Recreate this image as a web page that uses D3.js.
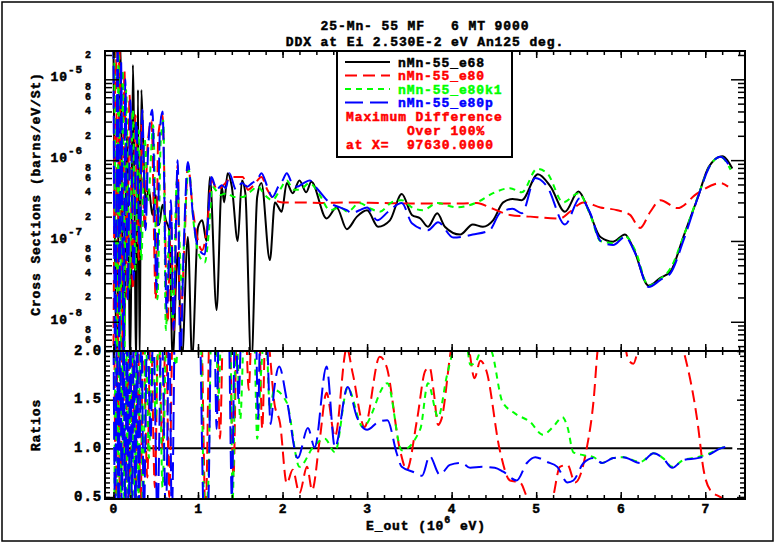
<!DOCTYPE html>
<html>
<head>
<meta charset="utf-8">
<script src="https://cdn.jsdelivr.net/npm/d3@7"></script>
<style>
  body { margin: 0; background: #fff; overflow: hidden; }
</style>
</head>
<body>
<div id="chart"></div>
<script>
// cross sections: [E_out (MeV), barns/eV/St]
const e68 = [[0.00, 3e-5], [0.04, 3e-9], [0.08, 3e-5], [0.12, 3e-9], [0.16, 2e-6], [0.20, 3e-9], [0.23, 1.5e-5],
    [0.27, 3e-9], [0.29, 7.4e-6], [0.31, 3e-9], [0.33, 7.4e-6], [0.36, 8e-7], [0.38, 3.2e-7], [0.42, 4.3e-7],
    [0.46, 2.1e-7], [0.50, 3.7e-7], [0.54, 1.6e-7], [0.58, 2.8e-7], [0.62, 1.8e-7], [0.66, 1.36e-7], [0.70, 3.5e-9],
    [0.76, 7.1e-8], [0.81, 3.5e-9], [0.88, 1.12e-7], [0.93, 3.5e-9], [1.00, 1.48e-7], [1.05, 1.8e-7], [1.10, 1.0e-7],
    [1.14, 6.2e-7], [1.22, 1.4e-8], [1.28, 4.7e-7], [1.31, 3.0e-7], [1.35, 6.9e-7], [1.40, 4.7e-7], [1.47, 1.0e-7],
    [1.52, 5.6e-7], [1.56, 3.9e-7], [1.63, 3e-9], [1.70, 3.5e-7], [1.75, 5.2e-7], [1.85, 5.8e-8], [1.91, 3.0e-7],
    [1.99, 2.3e-7], [2.05, 5.2e-7], [2.12, 3.9e-7], [2.20, 5.6e-7], [2.28, 4.0e-7], [2.34, 5.4e-7], [2.52, 1.9e-7],
    [2.64, 2.6e-7], [2.76, 1.4e-7], [2.88, 2.0e-7], [3.00, 2.4e-7], [3.13, 1.5e-7], [3.27, 1.8e-7], [3.41, 3.8e-7],
    [3.53, 2.1e-7], [3.63, 1.9e-7], [3.72, 1.5e-7], [3.83, 2.2e-7], [3.92, 1.5e-7], [4.10, 1.2e-7], [4.25, 1.6e-7],
    [4.37, 1.5e-7], [4.49, 1.8e-7], [4.61, 3.0e-7], [4.72, 3.3e-7], [4.83, 3.2e-7], [5.02, 6.7e-7], [5.17, 4.7e-7],
    [5.34, 2.3e-7], [5.50, 4.1e-7], [5.62, 2.4e-7], [5.76, 1.12e-7], [5.91, 9.8e-8], [6.05, 1.2e-7], [6.15, 8.1e-8],
    [6.33, 2.8e-8], [6.47, 3.5e-8], [6.59, 4.2e-8], [6.74, 1.12e-7], [6.91, 3.4e-7], [7.04, 8.2e-7], [7.20, 1.12e-6],
    [7.32, 7.9e-7]]

const e80 = [[0.00, 3e-9], [0.03, 3e-5], [0.05, 3e-9], [0.07, 2.8e-5], [0.10, 3e-9], [0.13, 1.3e-5], [0.16, 1.9e-8],
    [0.19, 6.4e-6], [0.23, 2.5e-8], [0.26, 3.6e-6], [0.30, 5.8e-8], [0.33, 2.7e-6], [0.37, 1.36e-7], [0.40, 1.33e-6],
    [0.45, 3.1e-6], [0.50, 1.9e-8], [0.53, 2.0e-6], [0.58, 3.6e-6], [0.64, 9.6e-9], [0.68, 2.4e-7], [0.71, 7.3e-9],
    [0.76, 8.7e-7], [0.79, 1.05e-8], [0.84, 8.9e-8], [0.88, 8.7e-7], [0.94, 2.4e-7], [1.00, 1.0e-7], [1.05, 7.7e-8],
    [1.11, 1.6e-7], [1.16, 5.6e-7], [1.23, 4.3e-7], [1.30, 4.9e-7], [1.41, 6.2e-7], [1.53, 6.2e-7], [1.59, 4.3e-7],
    [1.66, 4.9e-7], [1.75, 6.2e-7], [1.82, 4.3e-7], [1.91, 3.2e-7], [2.00, 3.0e-7], [2.20, 3.0e-7], [2.44, 2.95e-7],
    [2.80, 3.0e-7], [3.15, 2.95e-7], [3.63, 2.9e-7], [4.10, 2.9e-7], [4.30, 2.95e-7], [4.45, 2.6e-7], [4.69, 2.1e-7],
    [4.93, 2.0e-7], [5.28, 1.9e-7], [5.40, 2.3e-7], [5.56, 3.0e-7], [5.76, 2.6e-7], [5.96, 2.4e-7], [6.11, 2.1e-7],
    [6.23, 1.45e-7], [6.35, 2.3e-7], [6.47, 3.2e-7], [6.67, 2.55e-7], [6.91, 3.9e-7], [7.18, 5.2e-7], [7.27, 4.7e-7]]

const e80k1 = [[0.01, 3e-5], [0.04, 3e-9], [0.06, 2.5e-5], [0.08, 3e-9], [0.11, 1.3e-5], [0.13, 3e-9], [0.15, 7.4e-6],
    [0.19, 2.5e-8], [0.23, 4.2e-6], [0.26, 4.4e-8], [0.30, 2.35e-6], [0.33, 5.8e-8], [0.37, 1.8e-6], [0.41, 3.2e-7],
    [0.47, 2.7e-6], [0.52, 1.9e-8], [0.56, 1.8e-6], [0.59, 3.1e-6], [0.62, 7.9e-9], [0.66, 1.36e-7], [0.70, 1.05e-8],
    [0.75, 5.6e-7], [0.81, 2.5e-8], [0.84, 1.36e-7], [0.89, 7.6e-7], [0.95, 1.6e-7], [1.01, 6.8e-8], [1.08, 5.4e-8],
    [1.13, 1.36e-7], [1.17, 4.7e-7], [1.26, 3.7e-7], [1.34, 3.9e-7], [1.43, 3.5e-7], [1.53, 3.5e-7], [1.61, 4.0e-7],
    [1.71, 4.7e-7], [1.79, 3.7e-7], [1.88, 3.2e-7], [1.97, 4.3e-7], [2.05, 5.6e-7], [2.13, 4.3e-7], [2.20, 4.3e-7],
    [2.32, 5.2e-7], [2.44, 3.7e-7], [2.56, 2.4e-7], [2.68, 2.6e-7], [2.77, 2.3e-7], [2.91, 2.95e-7], [3.03, 2.55e-7],
    [3.15, 2.3e-7], [3.29, 3.0e-7], [3.41, 3.2e-7], [3.53, 2.6e-7], [3.66, 2.4e-7], [3.83, 2.95e-7], [4.06, 2.6e-7],
    [4.30, 3.0e-7], [4.49, 3.9e-7], [4.69, 4.5e-7], [4.83, 4.0e-7], [5.01, 7.8e-7], [5.13, 6.9e-7], [5.32, 3.0e-7],
    [5.50, 3.9e-7], [5.64, 2.1e-7], [5.76, 1.0e-7], [5.91, 9.4e-8], [6.05, 1.15e-7], [6.17, 7.7e-8], [6.33, 2.8e-8],
    [6.47, 3.4e-8], [6.59, 4.6e-8], [6.74, 1.12e-7], [6.91, 3.5e-7], [7.06, 8.7e-7], [7.18, 1.1e-6], [7.30, 7.6e-7]]

const e80p = [[0.00, 3e-5], [0.02, 3e-9], [0.05, 3e-5], [0.07, 3e-9], [0.09, 1.7e-5], [0.12, 3e-9], [0.14, 1.0e-5],
    [0.17, 1.9e-8], [0.20, 5.5e-6], [0.24, 3.3e-8], [0.27, 3.1e-6], [0.31, 7.7e-8], [0.34, 4.2e-6], [0.38, 1.36e-7],
    [0.41, 1.33e-6], [0.46, 4.2e-6], [0.51, 2.5e-8], [0.55, 2.35e-6], [0.58, 4.0e-6], [0.63, 1.3e-8], [0.68, 3.2e-7],
    [0.71, 7.9e-9], [0.76, 1.0e-6], [0.79, 3e-9], [0.83, 7.7e-8], [0.88, 9.5e-7], [0.94, 2.1e-7], [0.98, 1.0e-7],
    [1.02, 7.7e-8], [1.08, 6.8e-8], [1.11, 1.36e-7], [1.16, 6.2e-7], [1.22, 4.3e-7], [1.28, 4.9e-7], [1.33, 4.5e-7],
    [1.37, 6.9e-7], [1.45, 4.3e-7], [1.52, 5.2e-7], [1.58, 4.7e-7], [1.64, 5.2e-7], [1.71, 5.9e-7], [1.75, 6.9e-7],
    [1.82, 4.7e-7], [1.88, 3.5e-7], [1.95, 4.7e-7], [2.00, 5.6e-7], [2.05, 6.9e-7], [2.11, 5.2e-7], [2.17, 4.7e-7],
    [2.25, 5.2e-7], [2.32, 5.6e-7], [2.42, 4.3e-7], [2.56, 2.95e-7], [2.68, 2.6e-7], [2.76, 2.4e-7], [2.82, 2.2e-7],
    [2.91, 2.4e-7], [3.00, 2.6e-7], [3.12, 1.8e-7], [3.25, 2.3e-7], [3.41, 2.95e-7], [3.53, 1.66e-7], [3.72, 1.36e-7],
    [3.84, 1.7e-7], [4.02, 1.1e-7], [4.25, 1.2e-7], [4.45, 1.36e-7], [4.57, 2.2e-7], [4.72, 2.5e-7], [4.83, 2.2e-7],
    [4.99, 6.0e-7], [5.13, 4.7e-7], [5.34, 1.6e-7], [5.52, 3.4e-7], [5.64, 2.2e-7], [5.76, 1.0e-7], [5.91, 8.9e-8],
    [6.05, 1.12e-7], [6.17, 7.1e-8], [6.33, 2.7e-8], [6.47, 3.3e-8], [6.59, 4.0e-8], [6.74, 1.0e-7], [6.91, 3.4e-7],
    [7.06, 8.7e-7], [7.18, 1.1e-6], [7.30, 8.0e-7]]

// ratios to e68: [E_out (MeV), ratio]
const ratioE80 = [[0.01, 2.3], [0.03, 0.3], [0.05, 2.3], [0.08, 0.3], [0.11, 2.3], [0.14, 0.3], [0.17, 2.3], [0.20, 0.3],
    [0.23, 2.3], [0.26, 0.3], [0.29, 2.3], [0.32, 0.3], [0.35, 2.3], [0.40, 0.7], [0.44, 2.3], [0.49, 0.6], [0.53, 2.3],
    [0.58, 1.0], [0.62, 2.3], [0.66, 0.5], [0.70, 2.3], [0.78, 3.0], [0.98, 3.0], [1.04, 2.3], [1.09, 0.3], [1.14, 2.3],
    [1.22, 2.3], [1.26, 1.1], [1.30, 2.3], [1.37, 2.3], [1.42, 0.7], [1.46, 2.3], [1.56, 2.3], [1.60, 1.6], [1.64, 2.3],
    [1.72, 2.3], [1.76, 1.2], [1.80, 2.3], [1.91, 1.43], [1.97, 1.26], [2.05, 0.64], [2.12, 0.78], [2.20, 0.54],
    [2.29, 0.81], [2.35, 0.57], [2.44, 1.09], [2.52, 1.57], [2.62, 1.12], [2.76, 2.03], [2.83, 1.77], [2.97, 1.22],
    [3.15, 1.94], [3.23, 1.84], [3.39, 0.98], [3.47, 0.78], [3.59, 1.29], [3.69, 1.80], [3.74, 1.83], [3.79, 1.57],
    [3.84, 1.24], [3.88, 1.30], [4.00, 2.05], [4.10, 2.30], [4.20, 2.05], [4.27, 1.72], [4.34, 1.90], [4.41, 1.80],
    [4.57, 0.98], [4.69, 0.67], [4.81, 0.65], [4.89, 0.50], [5.00, 0.30], [5.12, 0.30], [5.20, 0.50], [5.28, 0.81],
    [5.37, 0.83], [5.46, 0.65], [5.60, 1.01], [5.68, 1.50], [5.73, 2.03], [5.85, 2.40], [6.00, 2.30], [6.09, 1.91],
    [6.15, 1.87], [6.21, 2.03], [6.35, 2.40], [6.60, 2.40], [6.73, 2.05], [6.91, 1.26], [6.98, 0.78], [7.06, 0.57],
    [7.18, 0.50], [7.27, 0.45]]

const ratioE80k1 = [[0.01, 0.3], [0.03, 2.3], [0.05, 0.3], [0.07, 2.3], [0.09, 0.3], [0.11, 2.3], [0.13, 0.3], [0.15, 2.3],
    [0.17, 0.3], [0.19, 2.3], [0.21, 0.3], [0.23, 2.3], [0.25, 0.3], [0.27, 2.3], [0.29, 0.3], [0.32, 2.3], [0.35, 0.3],
    [0.38, 2.3], [0.42, 0.9], [0.46, 2.3], [0.50, 1.3], [0.54, 2.3], [0.58, 0.6], [0.63, 2.3], [0.70, 2.1], [0.74, 1.85],
    [0.80, 3.0], [0.98, 3.0], [1.03, 2.3], [1.08, 0.3], [1.12, 0.6], [1.16, 2.3], [1.21, 2.3], [1.24, 1.5], [1.28, 2.3],
    [1.38, 2.3], [1.41, 0.45], [1.45, 2.3], [1.50, 1.3], [1.55, 2.3], [1.66, 2.3], [1.70, 1.1], [1.74, 1.7], [1.80, 2.3],
    [1.85, 1.4], [1.90, 1.6], [2.05, 1.47], [2.20, 0.81], [2.36, 1.01], [2.50, 1.10], [2.62, 0.96], [2.77, 1.62],
    [2.95, 1.22], [3.24, 1.67], [3.41, 0.98], [3.63, 1.20], [3.72, 1.67], [3.84, 1.32], [3.94, 1.73], [4.01, 1.98],
    [4.08, 2.15], [4.18, 2.05], [4.22, 1.86], [4.28, 1.88], [4.34, 2.00], [4.42, 2.10], [4.48, 1.98], [4.60, 1.48],
    [4.73, 1.37], [4.93, 1.27], [5.08, 1.14], [5.20, 1.22], [5.31, 1.32], [5.37, 1.22], [5.44, 0.96], [5.56, 0.93],
    [5.68, 0.91], [5.78, 0.85], [5.91, 0.90], [6.03, 0.91], [6.23, 0.86], [6.39, 0.95], [6.50, 0.90], [6.61, 0.81],
    [6.74, 0.88], [6.91, 0.91], [7.03, 0.94], [7.18, 1.00], [7.26, 1.02]]

const ratioE80p = [[0.00, 2.3], [0.02, 0.3], [0.04, 2.3], [0.06, 0.3], [0.08, 2.3], [0.10, 0.3], [0.12, 2.3], [0.14, 0.3],
    [0.16, 2.3], [0.18, 0.3], [0.20, 2.3], [0.22, 0.3], [0.24, 2.3], [0.26, 0.3], [0.28, 2.3], [0.30, 0.3], [0.33, 2.3],
    [0.36, 0.3], [0.40, 2.3], [0.44, 1.1], [0.47, 2.3], [0.52, 0.3], [0.57, 2.3], [0.62, 0.3], [0.66, 2.3], [0.69, 0.3],
    [0.74, 3.0], [0.98, 3.0], [1.02, 2.4], [1.07, 0.3], [1.12, 0.4], [1.16, 2.4], [1.19, 2.4], [1.22, 1.2], [1.25, 2.4],
    [1.36, 2.4], [1.40, 0.5], [1.44, 2.4], [1.48, 1.5], [1.52, 2.4], [1.68, 2.4], [1.71, 1.3], [1.74, 2.4], [1.80, 2.4],
    [1.86, 1.25], [1.90, 1.60], [1.96, 1.84], [2.05, 1.50], [2.18, 0.90], [2.30, 1.21], [2.38, 1.01], [2.52, 1.84],
    [2.62, 1.01], [2.77, 1.63], [2.88, 1.32], [3.00, 1.19], [3.13, 1.27], [3.24, 1.29], [3.35, 0.95], [3.41, 0.81],
    [3.54, 0.76], [3.65, 0.72], [3.74, 0.92], [3.86, 0.73], [3.98, 0.83], [4.12, 0.85], [4.22, 0.80], [4.36, 0.81],
    [4.51, 0.80], [4.61, 0.76], [4.77, 0.67], [4.89, 0.85], [4.99, 0.91], [5.13, 0.86], [5.25, 0.81], [5.37, 0.65],
    [5.44, 0.67], [5.56, 0.85], [5.68, 0.90], [5.78, 0.85], [5.91, 0.90], [6.03, 0.91], [6.23, 0.85], [6.39, 0.95],
    [6.50, 0.90], [6.61, 0.80], [6.74, 0.88], [6.91, 0.90], [7.03, 0.93], [7.18, 1.00], [7.26, 1.02]]

const unity = [[0.00, 1.0], [7.32, 1.0]]

const xMajor = [0, 1, 2, 3, 4, 5, 6, 7]
const ratioMajor = [0.5, 1.0, 1.5, 2.0]
const logMajor = [1e-8, 1e-7, 1e-6, 1e-5]
const logLabelled = [2, 4, 6, 8]
const titleLines = ['25-Mn- 55 MF   6 MT 9000', 'DDX at Ei 2.530E-2 eV An125 deg.']
const legendNames = ['nMn-55_e68', 'nMn-55_e80', 'nMn-55_e80k1', 'nMn-55_e80p']
const noteLines = ['Maximum Difference', '       Over 100%', 'at X=  97630.0000']

const translate = (x, y) => 'translate(' + x + ', ' + y + ')'
const FONT = "'Liberation Mono', 'DejaVu Sans Mono', monospace"

const W = 776, H = 544
const frame = { left: 105, right: 745, top: 51, mid: 351, bottom: 499 }
const styles = [
    { color: '#000000', dash: null },
    { color: '#ff0000', dash: '12,6' },
    { color: '#00ff00', dash: '6,5' },
    { color: '#0000ff', dash: '18,7' },
]

const svg = d3.select('#chart').append('svg')
    .attr('width', W)
    .attr('height', H)

// heavy monospace text, stroked a little to get the plotter weight
const txt = (sel, size, color = '#000') => sel
    .style('font-family', FONT)
    .style('font-weight', 'bold')
    .style('font-size', size + 'px')
    .style('letter-spacing', '0.9px')
    .style('white-space', 'pre')
    .attr('fill', color)
    .attr('stroke', color)
    .attr('stroke-width', 0.5)

svg.append('rect')
    .attr('x', 2).attr('y', 2).attr('width', W - 5).attr('height', H - 5)
    .attr('fill', '#fff').attr('stroke', '#000').attr('stroke-width', 1.5)

const x = d3.scaleLinear().domain([-0.1, 7.47]).range([frame.left, frame.right])
const yCs = d3.scaleLog().domain([4.35e-9, 2.24e-5]).range([frame.mid, frame.top])
const yR = d3.scaleLinear().domain([0.48, 2.0]).range([frame.bottom, frame.mid])

const defs = svg.append('defs')
defs.append('clipPath').attr('id', 'clipTop').append('rect')
    .attr('x', frame.left).attr('y', frame.top)
    .attr('width', frame.right - frame.left).attr('height', frame.mid - frame.top)
defs.append('clipPath').attr('id', 'clipBot').append('rect')
    .attr('x', frame.left).attr('y', frame.mid)
    .attr('width', frame.right - frame.left).attr('height', frame.bottom - frame.mid)

// curves
const lineTop = d3.line().x(d => x(d[0])).y(d => yCs(d[1])).curve(d3.curveMonotoneX)
const lineBot = d3.line().x(d => x(d[0])).y(d => yR(d[1])).curve(d3.curveMonotoneX)

const gTop = svg.append('g').attr('clip-path', 'url(#clipTop)')
;[e68, e80, e80k1, e80p].forEach((s, i) => {
    gTop.append('path').datum(s)
        .attr('d', lineTop)
        .attr('fill', 'none')
        .attr('stroke', styles[i].color)
        .attr('stroke-width', 2)
        .attr('stroke-dasharray', styles[i].dash)
})

const gBot = svg.append('g').attr('clip-path', 'url(#clipBot)')
;[unity, ratioE80, ratioE80k1, ratioE80p].forEach((s, i) => {
    gBot.append('path').datum(s)
        .attr('d', lineBot)
        .attr('fill', 'none')
        .attr('stroke', styles[i].color)
        .attr('stroke-width', 2)
        .attr('stroke-dasharray', styles[i].dash)
})

// ticks, all pointing inward
const ticks = (gen, tx, ty, scale, values, size, fmt, pad) => {
    const g = svg.append('g')
        .attr('transform', translate(tx, ty))
        .call(gen(scale).tickValues(values).tickSize(-size).tickPadding(pad || 3).tickFormat(fmt || (() => '')))
    g.select('.domain').remove()
    g.selectAll('line').attr('stroke', '#000').attr('stroke-width', 1.5)
    return g
}

const xMinor = d3.range(0, 7.47, 0.2)
const logMinor = []
for (let e = -9; e <= -5; e++) {
    for (let k = 2; k <= 9; k++) {
        const v = k * Math.pow(10, e)
        if (v > 4.35e-9 && v < 2.24e-5) logMinor.push(v)
    }
}
const ratioMinor = d3.range(0.5, 2.001, 0.05)

;[[d3.axisTop, frame.top], [d3.axisBottom, frame.mid], [d3.axisTop, frame.mid]].forEach(([gen, ty]) => {
    ticks(gen, 0, ty, x, xMinor, 4)
    ticks(gen, 0, ty, x, xMajor, 7)
})
ticks(d3.axisBottom, 0, frame.bottom, x, xMinor, 4)
txt(ticks(d3.axisBottom, 0, frame.bottom, x, xMajor, 7, d3.format('d'), 5).selectAll('text'), 13)

;[[d3.axisLeft, frame.left], [d3.axisRight, frame.right]].forEach(([gen, tx]) => {
    ticks(gen, tx, 0, yCs, logMinor, 7)
    ticks(gen, tx, 0, yCs, logMajor, 14)
    ticks(gen, tx, 0, yR, ratioMinor, 5)
})
ticks(d3.axisRight, frame.right, 0, yR, ratioMajor, 8)
txt(ticks(d3.axisLeft, frame.left, 0, yR, ratioMajor, 8, d3.format('.1f'), 3).selectAll('text'), 14)
    .attr('dy', '0.22em')

// log labels: 10^n for decades, bare digits for 2,4,6,8
logMajor.forEach(v => {
    const t = txt(svg.append('text'), 13)
        .attr('x', 83).attr('y', yCs(v) + 2)
        .attr('text-anchor', 'end')
    t.append('tspan').text('10')
    t.append('tspan').attr('dy', -8).style('font-size', '11px').text(Math.round(Math.log10(v)))
})
const mantissa = v => Math.round(v / Math.pow(10, Math.floor(Math.log10(v) + 1e-9)))
logMinor.filter(v => logLabelled.includes(mantissa(v)))
    .forEach(v => {
        txt(svg.append('text'), 10)
            .attr('x', 92).attr('y', yCs(v) + 3)
            .attr('text-anchor', 'end')
            .text(mantissa(v))
    })

// frames
;[[frame.top, frame.mid], [frame.mid, frame.bottom]].forEach(([y0, y1]) => {
    svg.append('rect')
        .attr('x', frame.left).attr('y', y0)
        .attr('width', frame.right - frame.left).attr('height', y1 - y0)
        .attr('fill', 'none').attr('stroke', '#000').attr('stroke-width', 2)
})

// titles
titleLines.forEach((s, i) => {
    txt(svg.append('text'), 13)
        .attr('x', (frame.left + frame.right) / 2).attr('y', 30 + i * 16)
        .attr('text-anchor', 'middle')
        .text(s)
})

txt(svg.append('text'), 13)
    .attr('transform', translate(40, 194) + ' rotate(-90)')
    .attr('text-anchor', 'middle')
    .text('Cross Sections (barns/eV/St)')
txt(svg.append('text'), 13)
    .attr('transform', translate(40, 425) + ' rotate(-90)')
    .attr('text-anchor', 'middle')
    .text('Ratios')

const xl = txt(svg.append('text'), 13)
    .attr('x', 426).attr('y', 530)
    .attr('text-anchor', 'middle')
xl.append('tspan').text('E_out (10')
xl.append('tspan').attr('dy', -7).style('font-size', '10px').text('6')
xl.append('tspan').attr('dy', 7).text(' eV)')

// legend
const lg = svg.append('g')
lg.append('rect')
    .attr('x', 337).attr('y', frame.top).attr('width', 175).attr('height', 106)
    .attr('fill', '#fff').attr('stroke', '#000').attr('stroke-width', 2)
legendNames.forEach((name, i) => {
    const cy = 62 + i * 13.5
    lg.append('line')
        .attr('x1', 345).attr('x2', 390).attr('y1', cy).attr('y2', cy)
        .attr('stroke', styles[i].color).attr('stroke-width', 2)
        .attr('stroke-dasharray', styles[i].dash)
    txt(lg.append('text'), 13, styles[i].color)
        .attr('x', 398).attr('y', cy + 4.5)
        .text(name)
})
noteLines.forEach((s, i) => {
    txt(lg.append('text'), 13, '#ff0000')
        .attr('x', 346).attr('y', 121 + i * 14)
        .text(s)
})
</script>
</body>
</html>
